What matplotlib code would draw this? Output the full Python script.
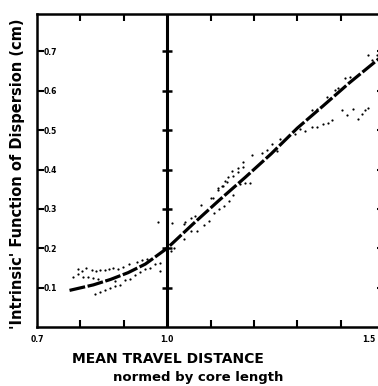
import numpy as np
import matplotlib.pyplot as plt
from matplotlib.ticker import FixedLocator

# fitted curve ("intrinsic" dispersion function)
fit_x = [0.775, 0.83, 0.87, 0.91, 0.95, 1.0, 1.06, 1.12, 1.18, 1.24, 1.30, 1.36, 1.42, 1.49]
fit_y = [0.093, 0.107, 0.121, 0.138, 0.16, 0.2, 0.262, 0.322, 0.38, 0.44, 0.505, 0.562, 0.62, 0.683]

# measured points, several runs
run1_x = [0.795, 0.803, 0.814, 0.826, 0.836, 0.845, 0.857, 0.867, 0.876, 0.887, 0.899, 0.911, 0.930, 0.941, 0.953]
run1_y = [0.147, 0.143, 0.149, 0.145, 0.141, 0.144, 0.146, 0.148, 0.151, 0.148, 0.153, 0.159, 0.166, 0.170, 0.172]

run2_x = [0.783, 0.795, 0.806, 0.818, 0.829, 0.841, 0.86, 0.88, 0.984, 0.984, 0.979]
run2_y = [0.128, 0.134, 0.127, 0.126, 0.124, 0.121, 0.119, 0.117, 0.162, 0.141, 0.266]

run3_x = [0.833, 0.845, 0.856, 0.868, 0.879, 0.891, 0.902, 0.914, 0.926, 0.937, 0.949, 0.960, 0.972]
run3_y = [0.083, 0.090, 0.095, 0.098, 0.104, 0.106, 0.120, 0.123, 0.131, 0.140, 0.148, 0.150, 0.160]

run4_x = [1.012, 1.04, 1.042, 1.054, 1.065, 1.077, 1.101, 1.117, 1.128, 1.133, 1.141, 1.149, 1.164, 1.175,
          1.106, 1.118, 1.127, 1.138, 1.152, 1.164, 1.175, 1.196, 1.219, 1.231, 1.242, 1.261, 1.295, 1.307]
run4_y = [0.265, 0.262, 0.267, 0.277, 0.283, 0.311, 0.328, 0.347, 0.357, 0.371, 0.381, 0.396, 0.405, 0.419,
          0.327, 0.353, 0.359, 0.369, 0.384, 0.394, 0.407, 0.437, 0.441, 0.449, 0.464, 0.477, 0.491, 0.502]

run5_x = [1.008, 1.016, 1.038, 1.054, 1.068, 1.084, 1.096, 1.107, 1.119, 1.130, 1.142, 1.153, 1.168, 1.180,
          1.192, 1.254, 1.318, 1.335, 1.346, 1.360, 1.372, 1.381]
run5_y = [0.194, 0.201, 0.224, 0.243, 0.245, 0.259, 0.27, 0.289, 0.300, 0.307, 0.321, 0.336, 0.362, 0.367,
          0.365, 0.446, 0.499, 0.509, 0.507, 0.516, 0.519, 0.526]

run6_x = [1.335, 1.346, 1.369, 1.388, 1.395, 1.411, 1.422, 1.404, 1.415, 1.429, 1.441, 1.450, 1.457, 1.464,
          1.462, 1.473, 1.485]
run6_y = [0.550, 0.553, 0.583, 0.603, 0.608, 0.633, 0.635, 0.550, 0.538, 0.553, 0.528, 0.540, 0.550, 0.555,
          0.690, 0.678, 0.690]

y_ticks = [0.1, 0.2, 0.3, 0.4, 0.5, 0.6, 0.7]
y_labels = ["0.1", "0.2", "0.3", "0.4", "0.5", "0.6", "0.7"]
x_major = [0.7, 1.0, 1.5]
x_labels = ["0.7", "1.0", "1.5"]
x_minor = [0.8, 0.9, 1.1, 1.2, 1.3, 1.4]

fig = plt.figure(figsize=(3.78, 3.86), dpi=100)
ax = fig.add_axes([37 / 378, 59 / 386, 347 / 378, 313 / 386])
ax.set_xlim(0.7, 1.5)
ax.set_ylim(0, 0.795)

for s in ax.spines.values():
    s.set_linewidth(1.8)

ax.axvline(1.0, color="black", lw=2.2)
ax.plot([1.0] * len(y_ticks), y_ticks, ls="none", marker="_", ms=7, mew=1.8, color="black")

for xs, ys in [(run1_x, run1_y), (run2_x, run2_y), (run3_x, run3_y),
               (run4_x, run4_y), (run5_x, run5_y), (run6_x, run6_y)]:
    ax.plot(xs, ys, ls="none", marker="o", ms=1.6, mew=0, color="black")

ax.plot(fit_x, fit_y, color="black", lw=2.3, ls=(0, (5, 0.8)))

ax.set_yticks(y_ticks)
ax.set_yticklabels(y_labels, fontsize=5.5, fontweight="bold")
ax.tick_params(axis="y", direction="in", length=5, width=1.5, right=True, pad=-5)
for lab in ax.get_yticklabels():
    lab.set_horizontalalignment("left")

ax.xaxis.set_major_locator(FixedLocator(x_major))
ax.set_xticklabels(["", "", ""])
ax.xaxis.set_minor_locator(FixedLocator(x_minor))
ax.tick_params(axis="x", which="major", length=0)
ax.tick_params(axis="x", which="minor", direction="in", length=5, width=1.5, top=True)

# x tick labels (the 1.5 one sits left of its tick, at the cut edge)
for xv, lab in zip(x_major, x_labels):
    dx = -6 if xv == 1.5 else 0
    ax.annotate(lab, (xv, 0), xycoords=("data", "axes fraction"),
                xytext=(dx, -6), textcoords="offset points",
                ha="right" if xv == 1.5 else "center", va="top",
                fontsize=5.5, fontweight="bold")

fig.text(0.045, 0.549, "'Intrinsic' Function of Dispersion (cm)", rotation=90,
         ha="center", va="center", fontsize=10.5, fontweight="bold")
fig.text(0.444, 0.070, "MEAN TRAVEL DISTANCE", ha="center", va="center",
         fontsize=10, fontweight="bold")
fig.text(0.524, 0.021, "normed by core length", ha="center", va="center",
         fontsize=9.5, fontweight="bold")

fig.savefig("out.png", dpi=100)
